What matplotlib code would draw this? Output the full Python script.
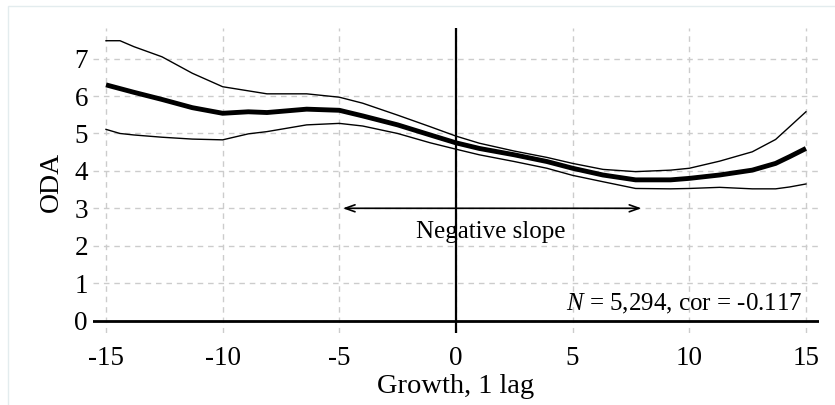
import matplotlib
matplotlib.use("Agg")
import matplotlib.pyplot as plt
from matplotlib.patches import Rectangle

plt.rcParams["font.family"] = ["Liberation Serif", "DejaVu Serif"]
plt.rcParams["axes.unicode_minus"] = False
plt.rcParams["mathtext.fontset"] = "custom"
plt.rcParams["mathtext.rm"] = "Liberation Serif"
plt.rcParams["mathtext.it"] = "Liberation Serif:italic"

# growth (1 lag) positions where the curves were read
growth = [-15, -14.4, -13.8, -12.6, -11.3, -10, -8.9, -8.1, -6.4, -5, -4, -2.5, -1.1,
          0, 1, 2.5, 3.9, 5, 6.3, 7.7, 9.2, 10, 11.3, 12.7, 13.7, 14.3, 15]

oda_fit = [6.30, 6.20, 6.10, 5.91, 5.69, 5.54, 5.58, 5.56, 5.65, 5.62, 5.47, 5.23, 4.96,
           4.75, 4.60, 4.43, 4.25, 4.07, 3.89, 3.76, 3.76, 3.80, 3.89, 4.02, 4.20, 4.38, 4.60]
oda_upper = [7.48, 7.48, 7.32, 7.05, 6.61, 6.25, 6.14, 6.06, 6.06, 5.97, 5.81, 5.49, 5.18,
             4.93, 4.74, 4.53, 4.36, 4.20, 4.04, 3.98, 4.02, 4.07, 4.26, 4.51, 4.84, 5.18, 5.58]
oda_lower = [5.11, 5.00, 4.96, 4.90, 4.85, 4.83, 4.99, 5.05, 5.23, 5.27, 5.20, 5.00, 4.75,
             4.58, 4.43, 4.25, 4.07, 3.88, 3.71, 3.53, 3.52, 3.53, 3.56, 3.52, 3.52, 3.57, 3.65]

x_ticks = [-15, -10, -5, 0, 5, 10, 15]
y_ticks = [0, 1, 2, 3, 4, 5, 6, 7]

slope_from = -4.85
slope_to = 7.95
slope_label = "Negative slope"
stats_label = r"$N$ = 5,294, cor = -0.117"

fig = plt.figure(figsize=(8.35, 4.05), dpi=100)
fig.patches.append(Rectangle((8 / 835, -0.01), 1, 1.01 - 6 / 405, transform=fig.transFigure,
                             fill=False, edgecolor="#e3ecee", lw=1.0))
ax = fig.add_axes([92.7 / 835, 72 / 405, 726.3 / 835, 305 / 405])

ax.plot(growth, oda_upper, color="black", lw=1.0)
ax.plot(growth, oda_lower, color="black", lw=1.0)
ax.plot(growth, oda_fit, color="black", lw=3.5, solid_capstyle="butt")

ax.axhline(0, color="black", lw=2.0, zorder=3)
ax.axvline(0, color="black", lw=1.6, zorder=3)

ax.annotate("", xy=(slope_to, 3), xytext=(slope_from, 3),
            arrowprops=dict(arrowstyle="<->,head_length=0.7,head_width=0.25",
                            color="black", lw=1.2, shrinkA=0, shrinkB=0))
ax.text(1.5, 2.2, slope_label, ha="center", va="baseline", fontsize=18)
ax.text(14.87, 0.27, stats_label, ha="right", va="baseline", fontsize=18)

ax.set_xlim(-15.57, 15.56)
ax.set_ylim(-0.334, 7.82)
ax.set_xticks(x_ticks)
ax.set_yticks(y_ticks)
ax.tick_params(length=0, labelsize=19.5)
ax.tick_params(axis="x", pad=9.2)
ax.tick_params(axis="y", pad=3.4)
ax.grid(True, color="#cccccc", lw=1.0, linestyle=(0, (4, 3.5)))
ax.set_axisbelow(True)
for s in ax.spines.values():
    s.set_visible(False)

ax.set_xlabel("Growth, 1 lag", fontsize=20.5)
ax.set_ylabel("ODA", fontsize=20)
ax.xaxis.set_label_coords(0.5, -0.133)
ax.yaxis.set_label_coords(-0.040, 0.495)

fig.savefig("out.png", dpi=100)
